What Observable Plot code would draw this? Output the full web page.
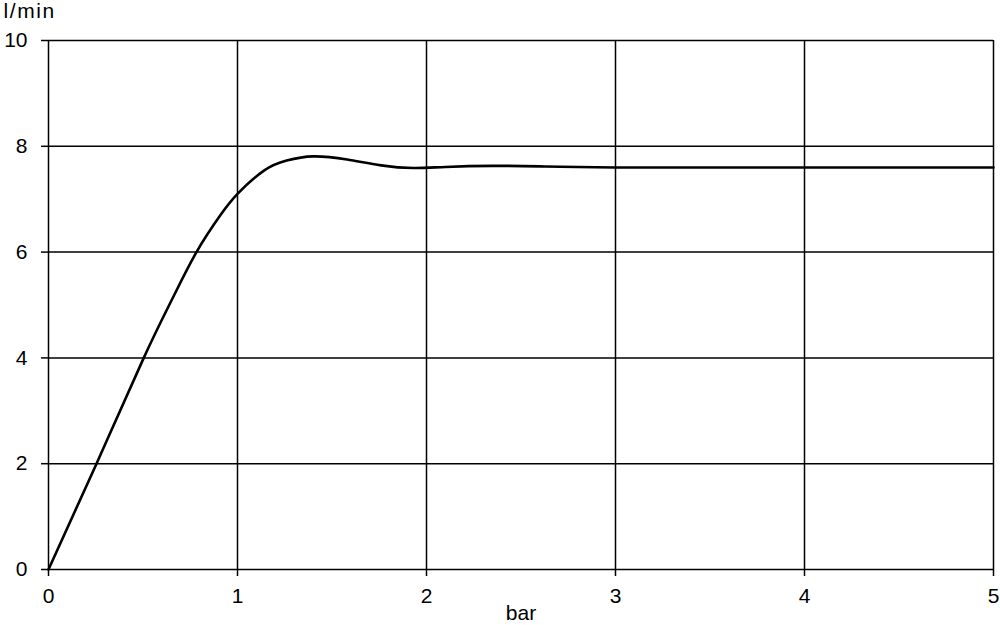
<!DOCTYPE html>
<html>
<head>
<meta charset="utf-8">
<script src="https://cdn.jsdelivr.net/npm/d3@7"></script>
<script src="https://cdn.jsdelivr.net/npm/@observablehq/plot@0.6"></script>
<style>
  html, body { margin: 0; padding: 0; background: #fff; }
  #chart { width: 1000px; height: 625px; }
  svg { font-family: "Liberation Sans", Arial, sans-serif; }
</style>
</head>
<body>
<div id="chart"></div>
<script>
// Pressure (bar) vs. flow (l/min)
const pressure = [0, 0.254, 0.504, 0.65, 0.783, 0.91, 1.0, 1.14, 1.26, 1.40, 1.58, 1.76, 1.93, 2.1, 2.35, 2.6, 3.0, 4.0, 5.0];
const flow     = [0, 2.0, 4.0, 5.08, 6.0, 6.70, 7.10, 7.54, 7.73, 7.81, 7.75, 7.64, 7.59, 7.61, 7.63, 7.62, 7.60, 7.60, 7.60];
const xTicks = [0, 1, 2, 3, 4, 5];
const yTicks = [0, 2, 4, 6, 8, 10];
const xLabel = "bar";
const yLabel = "l/min";

const data = pressure.map((p, i) => ({p, f: flow[i]}));

const chart = Plot.plot({
  width: 1000,
  height: 625,
  marginLeft: 48,
  marginRight: 7,
  marginTop: 40,
  marginBottom: 56,
  style: {fontFamily: "'Liberation Sans', Arial, sans-serif", fontSize: "21px", color: "black", background: "white"},
  x: {domain: [0, 5]},
  y: {domain: [0, 10]},
  marks: [
    Plot.gridX(xTicks, {stroke: "black", strokeOpacity: 1, strokeWidth: 1.5}),
    Plot.gridY(yTicks, {stroke: "black", strokeOpacity: 1, strokeWidth: 1.5}),
    Plot.axisX(xTicks, {tickSize: 7, tickPadding: 12, strokeWidth: 1.5, fontSize: 21, label: xLabel, labelAnchor: "center", labelArrow: "none", labelOffset: 50, tickFormat: d => String(d)}),
    Plot.axisY(yTicks, {tickSize: 7, tickPadding: 14, strokeWidth: 1.5, fontSize: 21, label: yLabel, labelAnchor: "top", labelArrow: "none", tickFormat: d => String(d)}),
    Plot.line(data, {x: "p", y: "f", curve: "natural", stroke: "black", strokeWidth: 2.6})
  ]
});
d3.select(chart).selectAll("text").filter(function() { return this.textContent === yLabel; })
  .attr("letter-spacing", "1.6px");
document.getElementById("chart").appendChild(chart);
</script>
</body>
</html>
